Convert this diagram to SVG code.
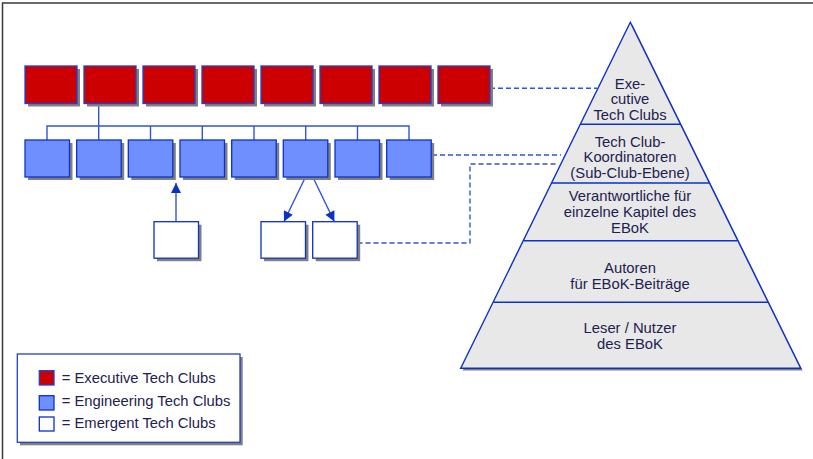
<svg xmlns="http://www.w3.org/2000/svg" width="813" height="459" viewBox="0 0 813 459">
<defs>
<style>
.exec{fill:#cc0000;stroke:#1f3fd0;stroke-width:1.3}
.eng{fill:#6f8fff;stroke:#0a32c8;stroke-width:1.3}
.emg{fill:#ffffff;stroke:#0a32c8;stroke-width:1.3}
.sh{fill:#808080}
.con{stroke:#2f55d6;stroke-width:1.4;fill:none}
.dash{stroke:#2f55d6;stroke-width:1.4;fill:none;stroke-dasharray:5,3}
.lvl{stroke:#0a32c8;stroke-width:1.4}
text{font-family:"Liberation Sans",Arial,sans-serif;font-size:14.8px;fill:#1c2250}
.c{text-anchor:middle}
</style>
<marker id="arr" viewBox="0 0 10 10" refX="10" refY="5" markerWidth="11" markerHeight="10" markerUnits="userSpaceOnUse" orient="auto">
<path d="M0,0 L10,5 L0,10 Z" fill="#0a32c8"/>
</marker>
</defs>
<rect width="813" height="459" fill="#ffffff"/>
<path d="M2.5,459 V3 H813" stroke="#3a3a3a" stroke-width="1.5" fill="none"/>

<g id="connectors">
<line class="con" x1="98.7" y1="104" x2="98.7" y2="140"/>
<polyline class="con" points="47,140 47,126 409,126 409,140"/>
<line class="con" x1="150.5" y1="126" x2="150.5" y2="140"/>
<line class="con" x1="202.3" y1="126" x2="202.3" y2="140"/>
<line class="con" x1="254" y1="126" x2="254" y2="140"/>
<line class="con" x1="305.7" y1="126" x2="305.7" y2="140"/>
<line class="con" x1="357.5" y1="126" x2="357.5" y2="140"/>
<line class="con" x1="176" y1="222" x2="176" y2="183" marker-end="url(#arr)"/>
<line class="con" x1="305" y1="178" x2="284" y2="221.5" marker-end="url(#arr)"/>
<line class="con" x1="313.3" y1="178" x2="334.3" y2="221.5" marker-end="url(#arr)"/>
<line class="dash" x1="490" y1="88.3" x2="597" y2="88.3"/>
<line class="dash" x1="432" y1="155" x2="561" y2="155"/>
<polyline class="dash" points="357.5,243 470,243 470,164 556,164"/>
</g>

<g id="executive-clubs">
<rect class="sh" x="28" y="69" width="52" height="37.5"/>
<rect class="exec" x="25" y="66" width="52" height="37.5"/>
<rect class="sh" x="87" y="69" width="52" height="37.5"/>
<rect class="exec" x="84" y="66" width="52" height="37.5"/>
<rect class="sh" x="146" y="69" width="52" height="37.5"/>
<rect class="exec" x="143" y="66" width="52" height="37.5"/>
<rect class="sh" x="205" y="69" width="52" height="37.5"/>
<rect class="exec" x="202" y="66" width="52" height="37.5"/>
<rect class="sh" x="264" y="69" width="52" height="37.5"/>
<rect class="exec" x="261" y="66" width="52" height="37.5"/>
<rect class="sh" x="323" y="69" width="52" height="37.5"/>
<rect class="exec" x="320" y="66" width="52" height="37.5"/>
<rect class="sh" x="382" y="69" width="52" height="37.5"/>
<rect class="exec" x="379" y="66" width="52" height="37.5"/>
<rect class="sh" x="441" y="69" width="52" height="37.5"/>
<rect class="exec" x="438" y="66" width="52" height="37.5"/>
</g>

<g id="engineering-clubs">
<rect class="sh" x="28" y="143" width="44.5" height="37"/>
<rect class="eng" x="25" y="140" width="44.5" height="37"/>
<rect class="sh" x="79.7" y="143" width="44.5" height="37"/>
<rect class="eng" x="76.7" y="140" width="44.5" height="37"/>
<rect class="sh" x="131.3" y="143" width="44.5" height="37"/>
<rect class="eng" x="128.3" y="140" width="44.5" height="37"/>
<rect class="sh" x="183" y="143" width="44.5" height="37"/>
<rect class="eng" x="180" y="140" width="44.5" height="37"/>
<rect class="sh" x="234.7" y="143" width="44.5" height="37"/>
<rect class="eng" x="231.7" y="140" width="44.5" height="37"/>
<rect class="sh" x="286.3" y="143" width="44.5" height="37"/>
<rect class="eng" x="283.3" y="140" width="44.5" height="37"/>
<rect class="sh" x="338" y="143" width="44.5" height="37"/>
<rect class="eng" x="335" y="140" width="44.5" height="37"/>
<rect class="sh" x="389.7" y="143" width="44.5" height="37"/>
<rect class="eng" x="386.7" y="140" width="44.5" height="37"/>
</g>

<g id="emergent-clubs">
<rect class="sh" x="157" y="224.7" width="44.5" height="36.5"/>
<rect class="emg" x="154" y="221.7" width="44.5" height="36.5"/>
<rect class="sh" x="264" y="224.7" width="44.5" height="36.5"/>
<rect class="emg" x="261" y="221.7" width="44.5" height="36.5"/>
<rect class="sh" x="315.7" y="224.7" width="44.5" height="36.5"/>
<rect class="emg" x="312.7" y="221.7" width="44.5" height="36.5"/>
</g>

<g id="pyramid">
<polygon points="632.3,24.3 802.7,370.5 462.7,370.5" fill="#808080"/>
<polygon points="630.3,22.3 800.7,368.3 460.7,368.3" fill="#e8e8e8" stroke="#0a32c8" stroke-width="1.4" stroke-linejoin="miter"/>
<line class="lvl" x1="580.3" y1="124.3" x2="680.3" y2="124.3"/>
<line class="lvl" x1="551.5" y1="183" x2="709" y2="183"/>
<line class="lvl" x1="523.5" y1="240.7" x2="737" y2="240.7"/>
<line class="lvl" x1="493.5" y1="302.3" x2="768" y2="302.3"/>
</g>

<g id="level-executive">
<text class="c" x="630" y="88.5">Exe-</text>
<text class="c" x="630" y="104">cutive</text>
<text class="c" x="630" y="119.5">Tech Clubs</text>
</g>
<g id="level-coordinators">
<text class="c" x="630" y="146.5">Tech Club-</text>
<text class="c" x="630" y="162">Koordinatoren</text>
<text class="c" x="630" y="177.5">(Sub-Club-Ebene)</text>
</g>
<g id="level-chapters">
<text class="c" x="630" y="201">Verantwortliche für</text>
<text class="c" x="630" y="217">einzelne Kapitel des</text>
<text class="c" x="630" y="233">EBoK</text>
</g>
<g id="level-authors">
<text class="c" x="630" y="272.5">Autoren</text>
<text class="c" x="630" y="288.5">für EBoK-Beiträge</text>
</g>
<g id="level-readers">
<text class="c" x="630" y="333">Leser / Nutzer</text>
<text class="c" x="630" y="348.5">des EBoK</text>
</g>

<g id="legend">
<rect class="sh" x="20" y="357" width="222.7" height="88.3"/>
<rect x="17.3" y="354" width="222.7" height="88.3" fill="#ffffff" stroke="#1f3fd0" stroke-width="1.3"/>
<rect class="exec" x="39.3" y="370.7" width="14.7" height="14.3"/>
<rect class="eng" x="39.3" y="395.7" width="14.7" height="14.3"/>
<rect class="emg" x="39.3" y="417" width="14.7" height="14"/>
<text x="61.7" y="382.7">= Executive Tech Clubs</text>
<text x="61.7" y="405.7">= Engineering Tech Clubs</text>
<text x="61.7" y="427.5">= Emergent Tech Clubs</text>
</g>
</svg>
